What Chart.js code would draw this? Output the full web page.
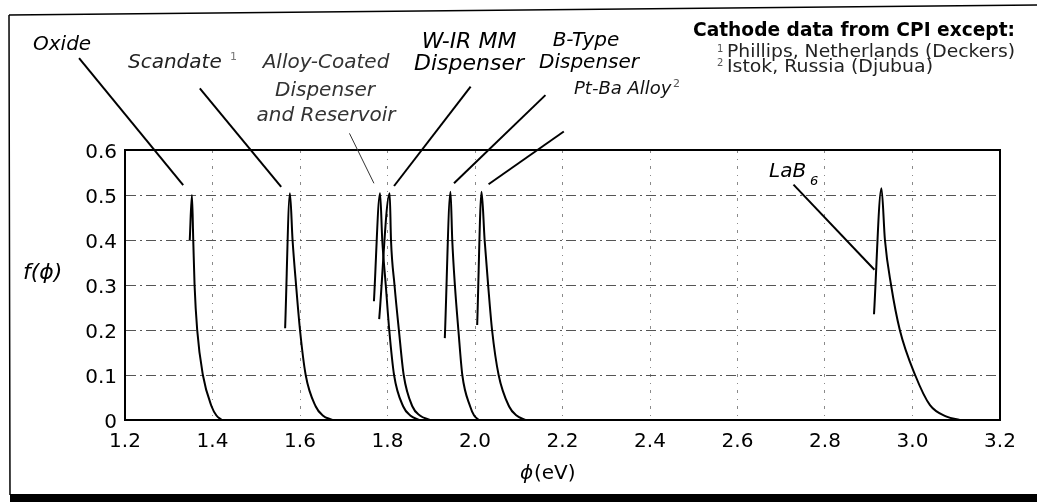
<!DOCTYPE html>
<html>
<head>
<meta charset="utf-8">
<script src="https://cdn.jsdelivr.net/npm/chart.js@4.4.0/dist/chart.umd.min.js"></script>
<style>
  html, body { margin: 0; padding: 0; background: #fff; }
  canvas { display: block; }
</style>
</head>
<body>
<canvas id="myChart" width="1037" height="502"></canvas>
<script>
// work function distributions, phi (eV) vs f(phi)
const oxidePhi = [1.348, 1.353, 1.356, 1.359, 1.365, 1.378, 1.398, 1.409, 1.421];
const oxideF = [0.40, 0.50, 0.40, 0.30, 0.20, 0.10, 0.03, 0.01, 0.0];

const scandatePhi = [1.566, 1.577, 1.583, 1.591, 1.600, 1.613, 1.636, 1.652, 1.674];
const scandateF = [0.204, 0.504, 0.40, 0.30, 0.20, 0.10, 0.03, 0.01, 0.0];

const alloyPhi = [1.769, 1.783, 1.788, 1.796, 1.804, 1.815, 1.836, 1.852, 1.872];
const alloyF = [0.264, 0.504, 0.40, 0.30, 0.20, 0.10, 0.03, 0.01, 0.0];

const wirPhi = [1.781, 1.805, 1.808, 1.816, 1.826, 1.837, 1.857, 1.874, 1.897];
const wirF = [0.224, 0.504, 0.40, 0.30, 0.20, 0.10, 0.03, 0.01, 0.0];

const btypePhi = [1.931, 1.944, 1.948, 1.954, 1.962, 1.971, 1.989, 1.998, 2.009];
const btypeF = [0.182, 0.507, 0.40, 0.30, 0.20, 0.10, 0.03, 0.01, 0.0];

const ptbaPhi = [2.005, 2.015, 2.022, 2.030, 2.039, 2.054, 2.078, 2.095, 2.115];
const ptbaF = [0.211, 0.507, 0.40, 0.30, 0.20, 0.10, 0.03, 0.01, 0.0];

const lab6Phi = [2.912, 2.929, 2.937, 2.951, 2.971, 3.006, 3.040, 3.078, 3.108];
const lab6F = [0.235, 0.515, 0.40, 0.30, 0.20, 0.10, 0.033, 0.0075, 0.0];

const curveNames = ["Oxide", "Scandate", "Alloy-Coated", "W-IR MM", "B-Type", "Pt-Ba Alloy", "LaB6"];
const curvePhi = [oxidePhi, scandatePhi, alloyPhi, wirPhi, btypePhi, ptbaPhi, lab6Phi];
const curveF = [oxideF, scandateF, alloyF, wirF, btypeF, ptbaF, lab6F];

// leader lines, label end -> curve end (data units)
const leaderFrom = [[1.095, 0.804], [1.371, 0.737], [1.713, 0.637], [1.990, 0.741], [2.161, 0.722], [2.203, 0.641], [2.728, 0.523]];
const leaderTo = [[1.333, 0.522], [1.557, 0.518], [1.769, 0.526], [1.815, 0.520], [1.952, 0.526], [2.031, 0.524], [2.913, 0.334]];

const xTicks = [1.2, 1.4, 1.6, 1.8, 2.0, 2.2, 2.4, 2.6, 2.8, 3.0, 3.2];
const yTicks = [0, 0.1, 0.2, 0.3, 0.4, 0.5, 0.6];

const FONT = "'DejaVu Sans', sans-serif";

const ctx = document.getElementById("myChart");

const datasets = curveNames.map((name, i) => ({
  label: name,
  data: curvePhi[i].map((x, j) => ({ x: x, y: curveF[i][j] })),
  borderColor: "#000",
  borderWidth: 2,
  pointRadius: 0,
  cubicInterpolationMode: "monotone",
  fill: false,
}));

// text helper, optional width stretches the run to that many pixels
const drawText = (c, s, x, y, font, color, align, width) => {
  c.save();
  c.font = font;
  c.textAlign = align || "left";
  c.textBaseline = "middle";
  c.fillStyle = color || "#000";
  c.translate(x, y);
  if (width) c.scale(width / c.measureText(s).width, 1);
  c.fillText(s, 0, 0);
  c.restore();
};

const decorations = {
  id: "decorations",
  afterDraw(chart) {
    const c = chart.ctx;
    const a = chart.chartArea;
    const xs = chart.scales.x;
    const ys = chart.scales.y;
    c.save();

    // plot box
    c.strokeStyle = "#000";
    c.lineWidth = 2;
    c.strokeRect(a.left, a.top, a.right - a.left, a.bottom - a.top);

    // outer frame
    c.lineWidth = 1.5;
    c.beginPath();
    c.moveTo(9, 15);
    c.lineTo(1037, 5);
    c.moveTo(9, 15);
    c.lineTo(10, 495);
    c.stroke();
    c.fillStyle = "#000";
    c.fillRect(10, 494, 1027, 8);

    // leader lines
    leaderFrom.forEach((p, i) => {
      const q = leaderTo[i];
      c.beginPath();
      c.lineWidth = i === 2 ? 1 : 2;
      c.strokeStyle = i === 2 ? "#333" : "#000";
      c.moveTo(xs.getPixelForValue(p[0]), ys.getPixelForValue(p[1]));
      c.lineTo(xs.getPixelForValue(q[0]), ys.getPixelForValue(q[1]));
      c.stroke();
    });

    const it = (n) => "italic " + n + "px " + FONT;
    drawText(c, "Oxide", 33, 45, it(20));
    drawText(c, "Scandate", 128, 63, it(20), "#222");
    drawText(c, "1", 230, 57, "11px " + FONT, "#777");
    drawText(c, "Alloy-Coated", 326, 63, it(20), "#333", "center");
    drawText(c, "Dispenser", 325, 91, it(20), "#333", "center");
    drawText(c, "and Reservoir", 326, 116, it(20), "#333", "center");
    drawText(c, "W-IR MM", 469, 42, it(22), "#000", "center");
    drawText(c, "Dispenser", 469, 64, it(22), "#000", "center");
    drawText(c, "B-Type", 586, 41, it(20), "#000", "center");
    drawText(c, "Dispenser", 589, 63, it(20), "#000", "center");
    drawText(c, "Pt-Ba Alloy", 574, 89, it(18), "#111");
    drawText(c, "2", 673, 84, "11px " + FONT, "#555");
    drawText(c, "Cathode data from CPI except:", 693, 31, "bold 20px " + FONT, "#000", "left", 322);
    drawText(c, "1", 717, 49, "10px " + FONT, "#555");
    drawText(c, "Phillips, Netherlands (Deckers)", 727, 53, "17px " + FONT, "#222", "left", 288);
    drawText(c, "2", 717, 63, "10px " + FONT, "#555");
    drawText(c, "Istok, Russia (Djubua)", 727, 68, "17px " + FONT, "#222", "left", 206);
    drawText(c, "LaB", 769, 172, it(20));
    drawText(c, "6", 810, 182, it(13));

    // axis titles
    drawText(c, "f(\u03D5)", 23, 273, it(22));
    drawText(c, "\u03D5", 520, 474, it(20));
    drawText(c, "(eV)", 534, 474, "20px " + FONT);

    c.restore();
  },
};

const chart = new Chart(ctx, {
  type: "line",
  data: { datasets: datasets },
  options: {
    responsive: false,
    animation: false,
    layout: { padding: { top: 150, right: 37, left: 0, bottom: 0 } },
    plugins: {
      legend: { display: false },
      tooltip: { enabled: false },
    },
    scales: {
      x: {
        type: "linear",
        min: xTicks[0],
        max: xTicks[xTicks.length - 1],
        afterBuildTicks: (scale) => {
          scale.ticks = xTicks.map((v) => ({ value: v }));
        },
        afterFit: (scale) => {
          scale.height = 82;
        },
        ticks: {
          callback: (v) => Number(v).toFixed(1),
          color: "#000",
          padding: 10,
          maxRotation: 0,
          autoSkip: false,
          font: { family: FONT, size: 20 },
        },
        grid: { color: "#8a8a8a", lineWidth: 1, drawTicks: false },
        border: { display: true, color: "#000", width: 2, dash: [3, 6, 1, 6] },
      },
      y: {
        min: yTicks[0],
        max: yTicks[yTicks.length - 1],
        afterBuildTicks: (scale) => {
          scale.ticks = yTicks.map((v) => ({ value: v }));
        },
        afterFit: (scale) => {
          scale.width = 125;
        },
        ticks: {
          callback: (v) => (v === 0 ? "0" : Number(v).toFixed(1)),
          color: "#000",
          padding: 8,
          labelOffset: 3,
          font: { family: FONT, size: 20 },
        },
        grid: { color: "#555", lineWidth: 1, drawTicks: false },
        border: { display: true, color: "#000", width: 2, dash: [10, 4, 2, 4] },
      },
    },
  },
  plugins: [decorations],
});
</script>
</body>
</html>
